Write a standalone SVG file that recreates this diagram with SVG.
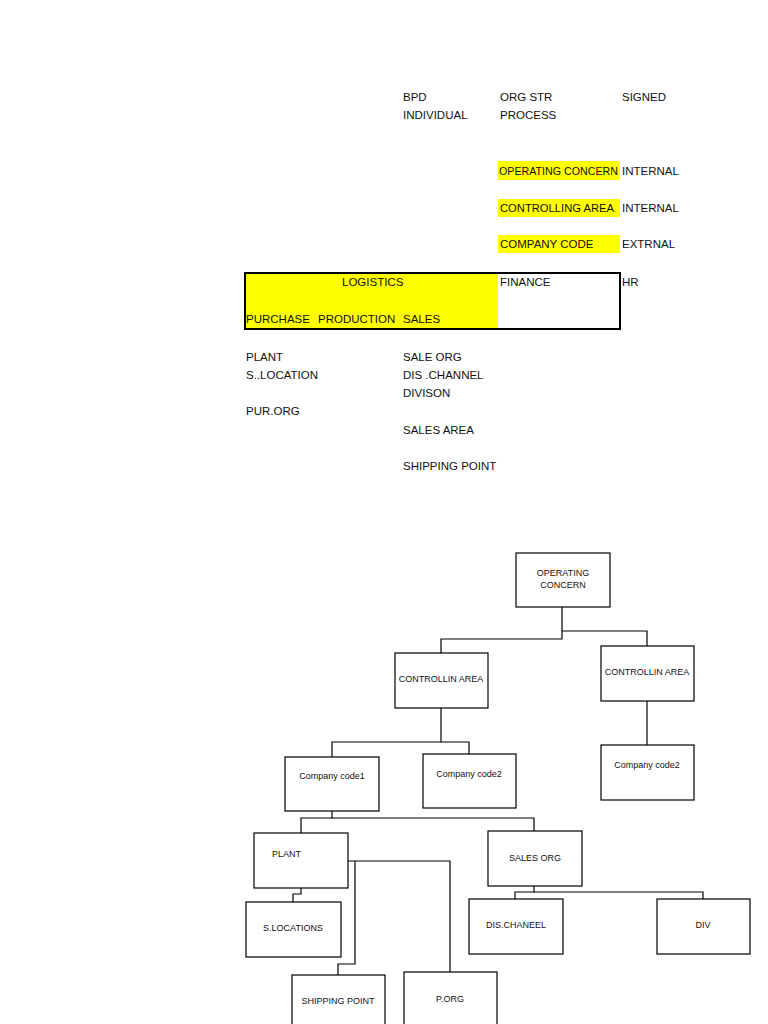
<svg xmlns="http://www.w3.org/2000/svg" width="768" height="1024" viewBox="0 0 768 1024">
<style>
.t{font-family:"Liberation Sans",Arial,sans-serif;font-size:11.5px;fill:#111}
.s{font-family:"Liberation Sans",Arial,sans-serif;font-size:9px;fill:#111}
.b{fill:#fff;stroke:#000;stroke-width:1.2}
.c{fill:none;stroke:#000;stroke-width:1.2}
.y{fill:#ffff00}
</style>
<rect width="768" height="1024" fill="#fff"/>
<g id="sheet">
<rect class="y" x="498" y="161" width="122" height="19"/>
<rect class="y" x="498" y="199" width="122" height="18"/>
<rect class="y" x="498" y="235" width="122" height="18"/>
<rect class="y" x="245" y="273" width="253" height="55"/>
<rect x="245" y="273" width="375" height="56" fill="none" stroke="#000" stroke-width="2"/>
<text class="t" x="403" y="101">BPD</text>
<text class="t" x="403" y="119">INDIVIDUAL</text>
<text class="t" x="500" y="101">ORG STR</text>
<text class="t" x="500" y="119">PROCESS</text>
<text class="t" x="622" y="101">SIGNED</text>
<text class="t" x="499" y="175" textLength="119" lengthAdjust="spacingAndGlyphs">OPERATING CONCERN</text>
<text class="t" x="622" y="175">INTERNAL</text>
<text class="t" x="500" y="212" textLength="114" lengthAdjust="spacingAndGlyphs">CONTROLLING AREA</text>
<text class="t" x="622" y="212">INTERNAL</text>
<text class="t" x="500" y="248">COMPANY CODE</text>
<text class="t" x="622" y="248">EXTRNAL</text>
<text class="t" x="342" y="286">LOGISTICS</text>
<text class="t" x="500" y="286">FINANCE</text>
<text class="t" x="622" y="286">HR</text>
<text class="t" x="246" y="323">PURCHASE</text>
<text class="t" x="318" y="323">PRODUCTION</text>
<text class="t" x="403" y="323">SALES</text>
<text class="t" x="246" y="361">PLANT</text>
<text class="t" x="246" y="379">S..LOCATION</text>
<text class="t" x="246" y="415">PUR.ORG</text>
<text class="t" x="403" y="361">SALE ORG</text>
<text class="t" x="403" y="379">DIS .CHANNEL</text>
<text class="t" x="403" y="397">DIVISON</text>
<text class="t" x="403" y="434">SALES AREA</text>
<text class="t" x="403" y="470">SHIPPING POINT</text>
</g>
<g id="connectors">
<polyline class="c" points="562,607 562,639 441,639 441,653"/>
<polyline class="c" points="562,631 647,631 647,646"/>
<polyline class="c" points="441,708 441,742 332,742 332,757"/>
<polyline class="c" points="441,742 469,742 469,754"/>
<line class="c" x1="647" y1="701" x2="647" y2="745"/>
<polyline class="c" points="332,811 332,818 301,818 301,833"/>
<polyline class="c" points="332,818 534,818 534,831"/>
<polyline class="c" points="301,888 301,894 293,894 293,902"/>
<polyline class="c" points="348,861 450,861 450,972"/>
<polyline class="c" points="355,861 355,964 338,964 338,975"/>
<polyline class="c" points="534,886 534,892 515,892 515,899"/>
<polyline class="c" points="534,892 703,892 703,899"/>
</g>
<g id="n-oc"><rect class="b" x="516" y="553" width="94" height="54"/><text class="s" x="563" y="576" text-anchor="middle">OPERATING</text><text class="s" x="563" y="588" text-anchor="middle">CONCERN</text></g>
<g id="n-ca1"><rect class="b" x="395" y="653" width="93" height="55"/><text class="s" x="441" y="682" text-anchor="middle">CONTROLLIN AREA</text></g>
<g id="n-ca2"><rect class="b" x="601" y="646" width="93" height="55"/><text class="s" x="647" y="675" text-anchor="middle">CONTROLLIN AREA</text></g>
<g id="n-cc1"><rect class="b" x="285" y="757" width="94" height="54"/><text class="s" x="332" y="779" text-anchor="middle">Company code1</text></g>
<g id="n-cc2"><rect class="b" x="423" y="754" width="93" height="54"/><text class="s" x="469" y="777" text-anchor="middle">Company code2</text></g>
<g id="n-cc3"><rect class="b" x="601" y="745" width="93" height="55"/><text class="s" x="647" y="768" text-anchor="middle">Company code2</text></g>
<g id="n-plant"><rect class="b" x="254" y="833" width="94" height="55"/><text class="s" x="272" y="857">PLANT</text></g>
<g id="n-sorg"><rect class="b" x="488" y="831" width="94" height="55"/><text class="s" x="535" y="861" text-anchor="middle">SALES ORG</text></g>
<g id="n-sloc"><rect class="b" x="246" y="902" width="95" height="55"/><text class="s" x="293" y="931" text-anchor="middle">S.LOCATIONS</text></g>
<g id="n-dis"><rect class="b" x="469" y="899" width="94" height="55"/><text class="s" x="516" y="928" text-anchor="middle">DIS.CHANEEL</text></g>
<g id="n-div"><rect class="b" x="657" y="899" width="93" height="55"/><text class="s" x="703" y="928" text-anchor="middle">DIV</text></g>
<g id="n-ship"><rect class="b" x="292" y="975" width="93" height="60"/><text class="s" x="338" y="1004" text-anchor="middle">SHIPPING POINT</text></g>
<g id="n-porg"><rect class="b" x="404" y="972" width="93" height="60"/><text class="s" x="450" y="1002" text-anchor="middle">P.ORG</text></g>
</svg>
